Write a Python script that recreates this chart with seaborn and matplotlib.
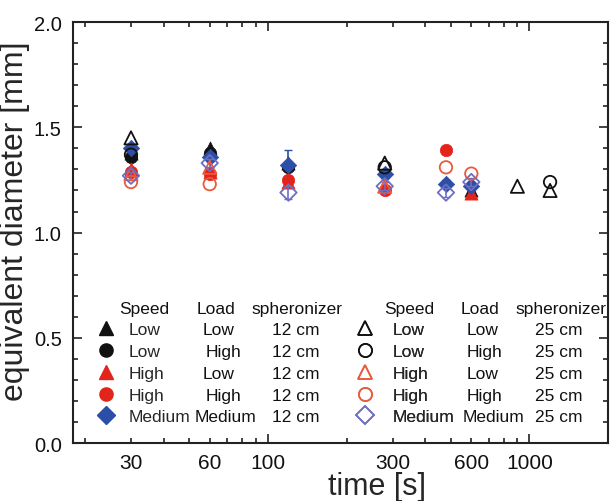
import matplotlib
matplotlib.use("Agg")
import matplotlib.pyplot as plt
import seaborn as sns
from matplotlib.lines import Line2D
from matplotlib.ticker import FixedLocator, FuncFormatter, MultipleLocator, FormatStrFormatter

sns.set_theme(style="ticks")
plt.rcParams['font.family'] = ['Liberation Sans', 'DejaVu Sans']

# ---- data: time [s] and equivalent diameter [mm] per run ----
# spheronizer 12 cm (filled symbols)
t_ll12 = [30, 60, 120, 600]
d_ll12 = [1.38, 1.40, 1.33, 1.20]
t_lh12 = [30, 60, 120]
d_lh12 = [1.36, 1.38, 1.31]
t_hl12 = [30, 60, 120, 600]
d_hl12 = [1.30, 1.29, 1.24, 1.19]
t_hh12 = [30, 60, 120, 280, 480]
d_hh12 = [1.29, 1.28, 1.25, 1.20, 1.39]
t_mm12 = [30, 60, 120, 280, 480, 600]
d_mm12 = [1.40, 1.36, 1.32, 1.28, 1.23, 1.22]
e_mm12 = [0.02, 0.02, 0.07, 0.02, 0.02, 0.02]

# spheronizer 25 cm (open symbols)
t_ll25 = [30, 280, 900, 1200]
d_ll25 = [1.45, 1.33, 1.22, 1.20]
t_lh25 = [30, 280, 1200]
d_lh25 = [1.37, 1.31, 1.24]
t_hl25 = [30, 60, 280]
d_hl25 = [1.28, 1.31, 1.22]
t_hh25 = [30, 60, 480, 600]
d_hh25 = [1.24, 1.23, 1.31, 1.28]
t_mm25 = [30, 60, 120, 280, 480, 600]
d_mm25 = [1.27, 1.33, 1.19, 1.22, 1.19, 1.24]
e_mm25 = [0.02, 0.02, 0.03, 0.02, 0.02, 0.02]

speed_levels = ["Low", "Low", "High", "High", "Medium"]
load_levels = ["Low", "High", "Low", "High", "Medium"]
size_12 = "12 cm"
size_25 = "25 cm"

BLACK = "#111111"
RED = "#e3241b"
RED_OPEN = "#ea5a3c"
BLUE = "#2b4ea6"
BLUE_OPEN = "#6e6ec4"
LEG_FS = 12.5

fig = plt.figure(figsize=(6.13, 5.02), dpi=100)
ax = fig.add_axes([0.119, 0.1155, 0.873, 0.8385])

filled = [
    (t_ll12, d_ll12, "^", BLACK, None),
    (t_lh12, d_lh12, "o", BLACK, None),
    (t_hl12, d_hl12, "^", RED, None),
    (t_hh12, d_hh12, "o", RED, None),
    (t_mm12, d_mm12, "D", BLUE, e_mm12),
]
opened = [
    (t_ll25, d_ll25, "^", BLACK, None),
    (t_lh25, d_lh25, "o", BLACK, None),
    (t_hl25, d_hl25, "^", RED_OPEN, None),
    (t_hh25, d_hh25, "o", RED_OPEN, None),
    (t_mm25, d_mm25, "D", BLUE_OPEN, e_mm25),
]
sizes = {"^": 90, "o": 80, "D": 70}

for t, d, m, c, err in filled:
    if err is not None:
        ax.errorbar(t, d, yerr=err, fmt="none", ecolor=c, elinewidth=1.2, capsize=3, zorder=2)
    sns.scatterplot(x=t, y=d, marker=m, s=sizes[m], color=c, edgecolor=c,
                    linewidth=0.5, ax=ax, zorder=3, legend=False)
for t, d, m, c, err in opened:
    if err is not None:
        ax.errorbar(t, d, yerr=err, fmt="none", ecolor=c, elinewidth=1.2, capsize=3, zorder=4)
    sns.scatterplot(x=t, y=d, marker=m, s=sizes[m], facecolor="none", edgecolor=c,
                    linewidth=1.3, ax=ax, zorder=5, legend=False)

# ---- axes ----
ax.set_xscale("log")
ax.set_xlim(18, 2000)
ax.set_ylim(0, 2.0)
ax.xaxis.set_major_locator(FixedLocator([100, 1000]))
ax.xaxis.set_minor_locator(FixedLocator([20, 30, 40, 50, 60, 70, 80, 90,
                                         200, 300, 400, 500, 600, 700, 800, 900]))
ax.xaxis.set_major_formatter(FuncFormatter(lambda v, p: f"{v:g}"))
ax.xaxis.set_minor_formatter(FuncFormatter(
    lambda v, p: f"{int(round(v))}" if int(round(v)) in (30, 60, 300, 600) else ""))
ax.yaxis.set_major_locator(MultipleLocator(0.5))
ax.yaxis.set_minor_locator(MultipleLocator(0.1))
ax.yaxis.set_major_formatter(FormatStrFormatter("%.1f"))

ax.tick_params(which="both", direction="in", top=True, right=True,
               colors="#222222", labelcolor="#111111", width=1.2)
ax.tick_params(axis="x", which="both", labelsize=15, pad=7)
ax.tick_params(axis="y", which="both", labelsize=14.5, pad=8)
ax.tick_params(which="major", length=6.5)
ax.tick_params(which="minor", length=3.5)
for s in ax.spines.values():
    s.set_linewidth(1.5)
    s.set_color("#222222")

ax.set_xlabel("time [s]", fontsize=22)
ax.set_ylabel("equivalent diameter [mm]", fontsize=23)
ax.xaxis.set_label_coords(0.568, -0.067)
ax.yaxis.set_label_coords(-0.08, 0.53)

# ---- legend tables ----
def handles(group, open_marker):
    hs = []
    for t, d, m, c, err in group:
        if open_marker:
            hs.append(Line2D([], [], marker=m, linestyle="none", markersize=9.5,
                             markerfacecolor="none", markeredgecolor=c, markeredgewidth=1.2))
        else:
            hs.append(Line2D([], [], marker=m, linestyle="none", markersize=9.5,
                             markerfacecolor=c, markeredgecolor=c))
    return hs

leg_kw = dict(loc="upper left", frameon=False, fontsize=LEG_FS, handlelength=1.0,
              labelspacing=0.38, borderpad=0, borderaxespad=0)
leg1 = ax.legend(handles=handles(filled, False), labels=speed_levels,
                 bbox_to_anchor=(0.0455, 0.2867), handletextpad=0.82, **leg_kw)
ax.add_artist(leg1)
leg2 = ax.legend(handles=handles(opened, True), labels=speed_levels,
                 bbox_to_anchor=(0.5303, 0.2867), handletextpad=1.05, **leg_kw)
ax.add_artist(leg2)

fig.canvas.draw()
inv = ax.transAxes.inverted()


def row_y(text):
    bb = text.get_window_extent()
    return inv.transform((0, (bb.y0 + bb.y1) / 2))[1]


def columns(leg, head_x, load_x, size_x, size_txt):
    ys = [row_y(tx) for tx in leg.get_texts()]
    step = ys[0] - ys[1]
    head_y = ys[0] + step
    for hx, htxt in zip(head_x, ["Speed", "Load", "spheronizer"]):
        ax.text(hx, head_y, htxt, transform=ax.transAxes, ha="center", va="center",
                fontsize=LEG_FS, color="#111111")
    for y, lx, ld in zip(ys, load_x, load_levels):
        ax.text(lx, y, ld, transform=ax.transAxes, ha="left", va="center",
                fontsize=LEG_FS, color="#111111")
        ax.text(size_x, y, size_txt, transform=ax.transAxes, ha="center", va="center",
                fontsize=LEG_FS, color="#111111")


columns(leg1, (0.133, 0.267, 0.419), (0.243, 0.247, 0.243, 0.247, 0.228), 0.417, size_12)
columns(leg2, (0.628, 0.761, 0.912), (0.736, 0.736, 0.736, 0.736, 0.729), 0.908, size_25)

fig.savefig("out.png", dpi=100)
